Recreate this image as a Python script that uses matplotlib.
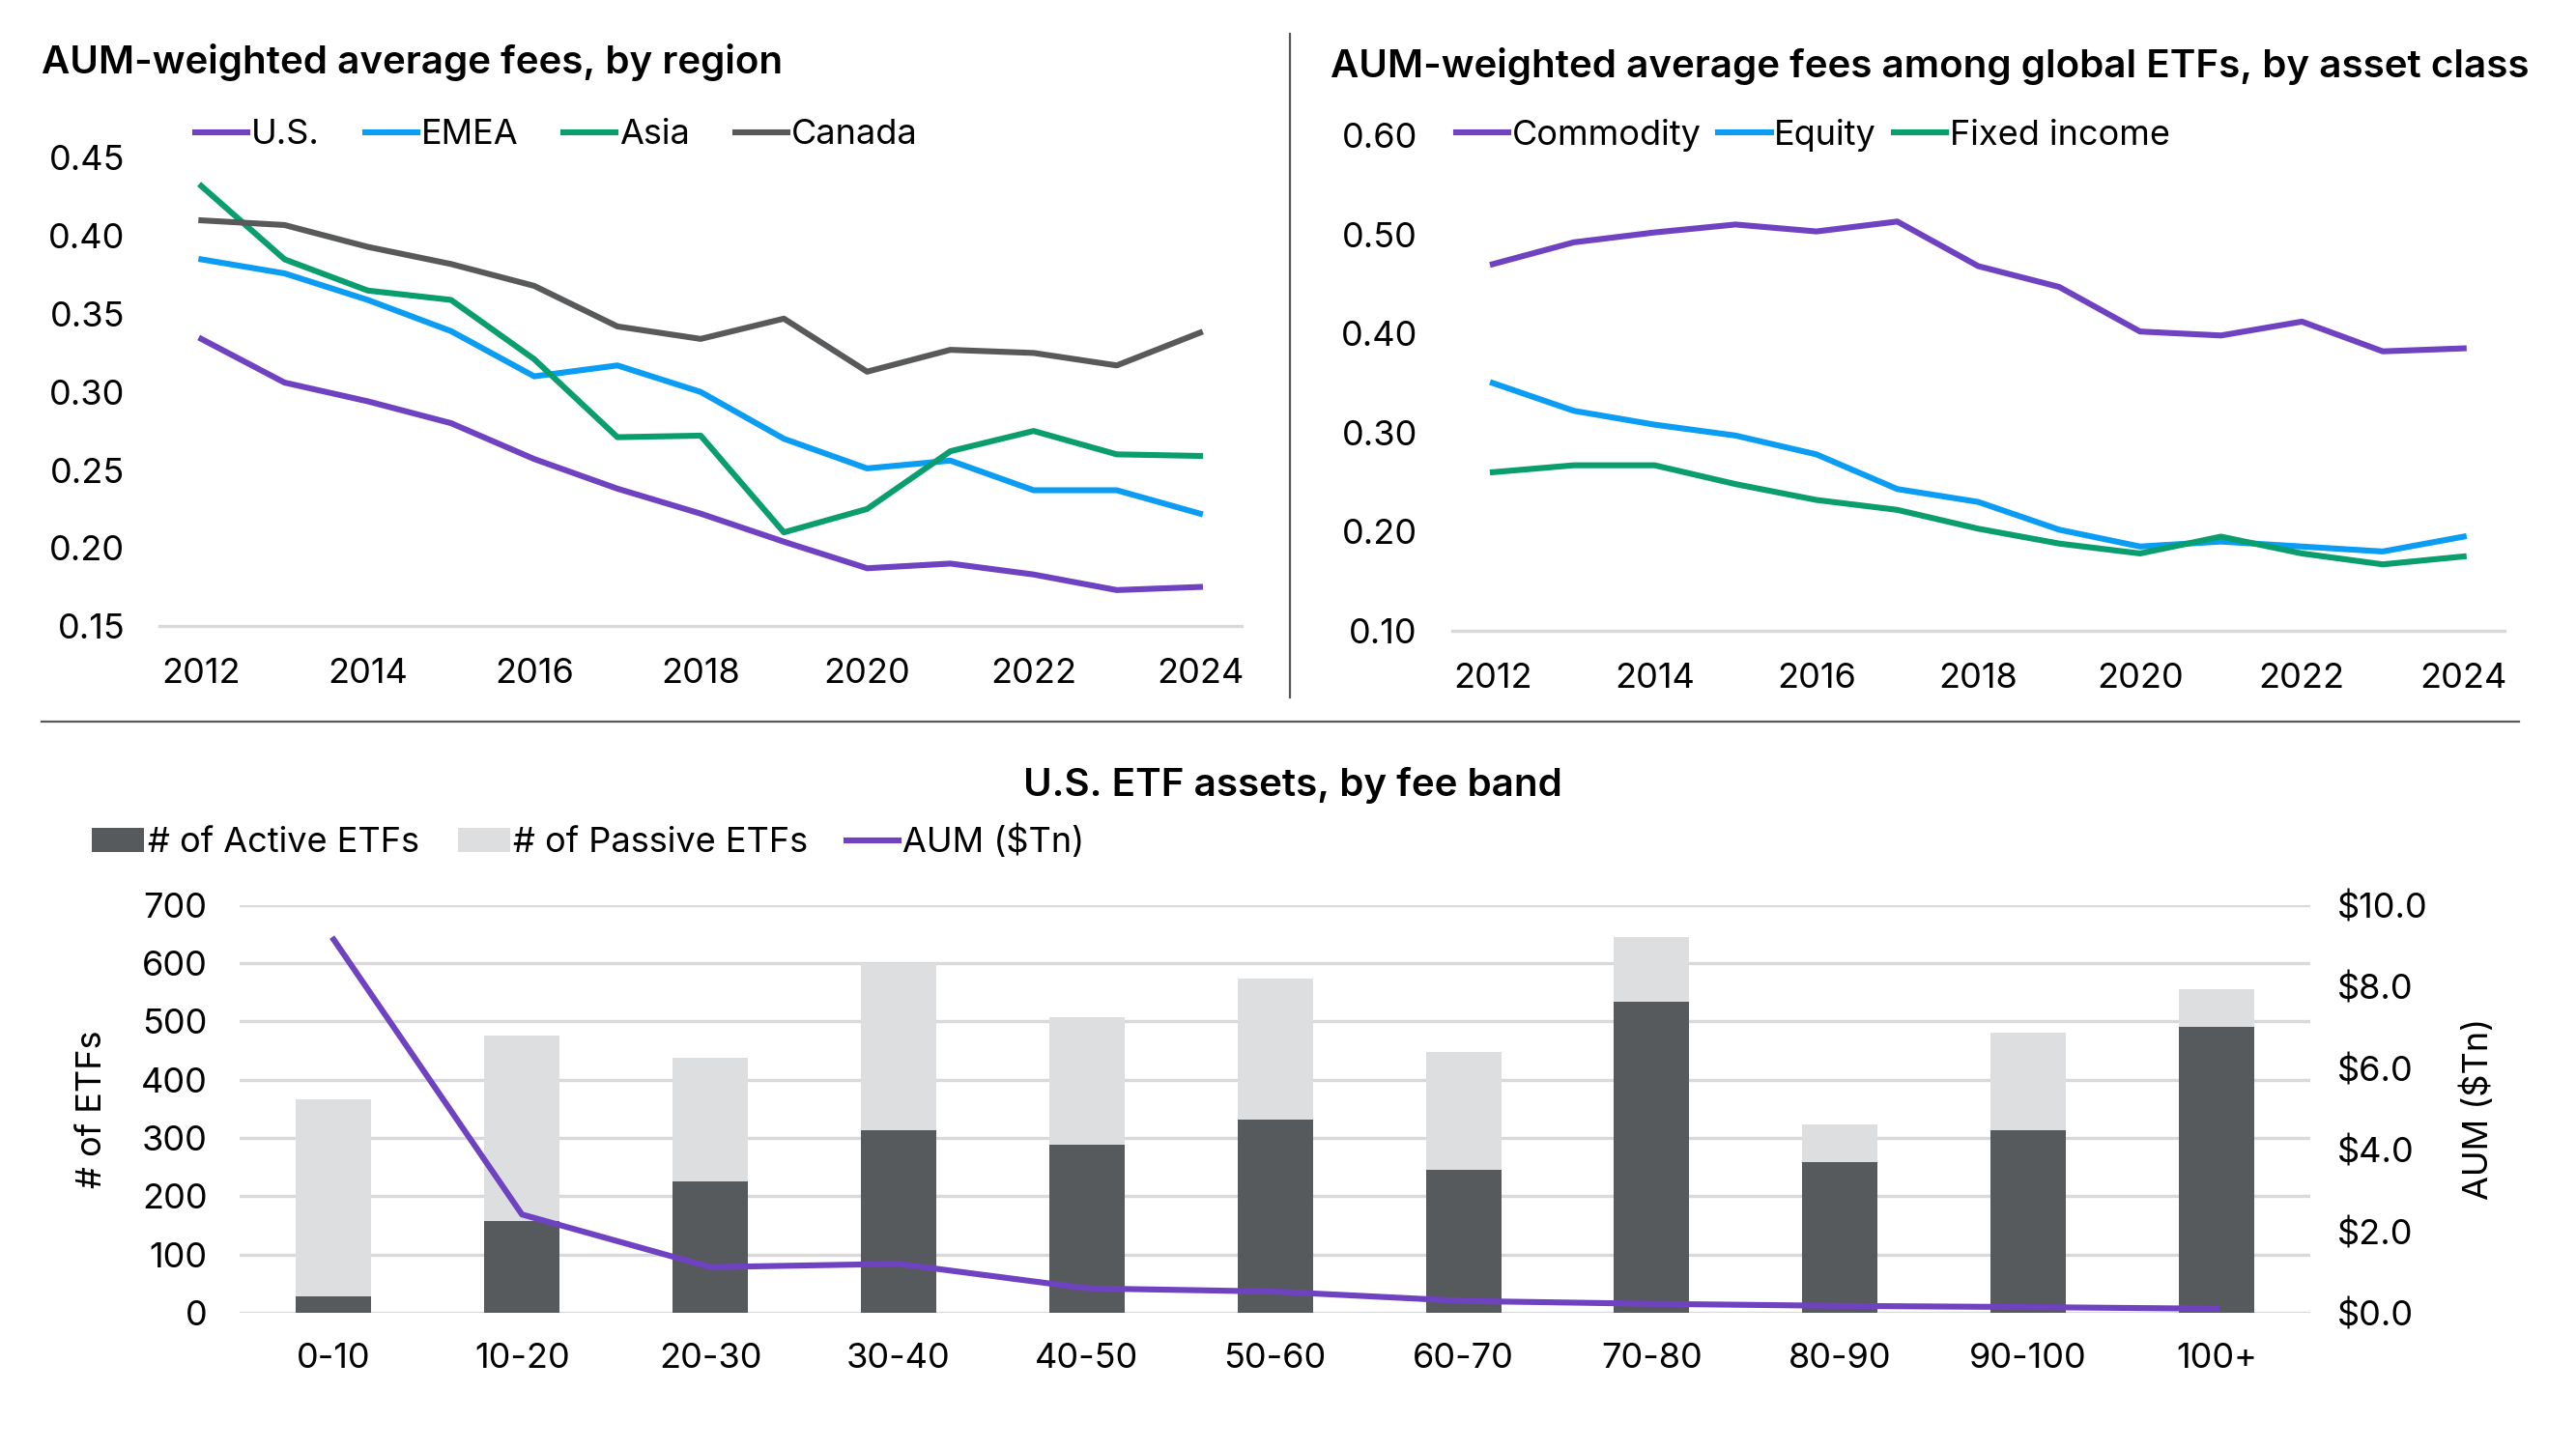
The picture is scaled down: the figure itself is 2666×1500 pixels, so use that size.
import numpy as np
import matplotlib
matplotlib.use("Agg")
from matplotlib import pyplot as plt
from matplotlib.lines import Line2D

plt.rcParams['font.family'] = ['Inter', 'DejaVu Sans']

# --- data ---
years = list(range(2012, 2025))

us = [0.334, 0.306, 0.294, 0.280, 0.257, 0.238, 0.222, 0.204, 0.187, 0.190, 0.183, 0.173, 0.175]
emea = [0.385, 0.376, 0.359, 0.339, 0.310, 0.317, 0.300, 0.270, 0.251, 0.256, 0.237, 0.237, 0.222]
asia = [0.432, 0.385, 0.365, 0.359, 0.321, 0.271, 0.272, 0.210, 0.225, 0.262, 0.275, 0.260, 0.259]
canada = [0.410, 0.407, 0.393, 0.382, 0.368, 0.342, 0.334, 0.347, 0.313, 0.327, 0.325, 0.317, 0.338]

commodity = [0.470, 0.492, 0.502, 0.510, 0.503, 0.513, 0.468, 0.447, 0.402, 0.398, 0.412, 0.382, 0.385]
equity = [0.350, 0.322, 0.308, 0.297, 0.278, 0.243, 0.230, 0.202, 0.185, 0.190, 0.185, 0.180, 0.195]
fixed_income = [0.260, 0.267, 0.267, 0.248, 0.232, 0.222, 0.203, 0.188, 0.178, 0.195, 0.178, 0.167, 0.175]

fee_bands = ["0-10", "10-20", "20-30", "30-40", "40-50", "50-60", "60-70", "70-80", "80-90", "90-100", "100+"]
active = [29, 158, 226, 314, 288, 331, 245, 534, 258, 313, 490]
passive = [337, 318, 212, 286, 219, 242, 203, 111, 65, 167, 65]
aum = [9.15, 2.41, 1.12, 1.20, 0.60, 0.52, 0.29, 0.22, 0.17, 0.14, 0.10]

PURPLE = "#6F42C1"
BLUE = "#0B9CF3"
GREEN = "#0A9E6E"
GRAY = "#58595B"
DARK_BAR = "#575A5D"
LIGHT_BAR = "#DDDEE0"
BASE = "#D9D9D9"

fig = plt.figure(figsize=(13.33, 7.5), dpi=200)


def style_line_axes(ax, ylim, yticks, fmt):
    ax.set_xlim(2011.5, 2024.5)
    ax.set_ylim(*ylim)
    ax.set_yticks(yticks)
    ax.set_yticklabels([fmt.format(v) for v in yticks])
    ax.set_xticks(range(2012, 2025, 2))
    for s in ["top", "right", "left"]:
        ax.spines[s].set_visible(False)
    ax.spines["bottom"].set_color(BASE)
    ax.spines["bottom"].set_linewidth(1.2)
    ax.tick_params(length=0, labelsize=13)
    ax.tick_params(axis="y", pad=13)
    ax.tick_params(axis="x", pad=12)


# top-left
ax1 = fig.add_axes([0.062, 0.568, 0.420, 0.323])
for vals, c, lab in [(us, PURPLE, "U.S."), (emea, BLUE, "EMEA"), (asia, GREEN, "Asia"), (canada, GRAY, "Canada")]:
    ax1.plot(years, vals, color=c, lw=2.2, label=lab)
style_line_axes(ax1, (0.15, 0.45), [0.15, 0.20, 0.25, 0.30, 0.35, 0.40, 0.45], "{:.2f}")
ax1.legend(loc="center left", bbox_to_anchor=(0.02, 1.049), ncol=4, frameon=False, fontsize=13,
           handlelength=1.5, handletextpad=0.1, columnspacing=1.3, borderaxespad=0)

# top-right
ax2 = fig.add_axes([0.5638, 0.5647, 0.4083, 0.3419])
for vals, c, lab in [(commodity, PURPLE, "Commodity"), (equity, BLUE, "Equity"), (fixed_income, GREEN, "Fixed income")]:
    ax2.plot(years, vals, color=c, lw=2.2, label=lab)
style_line_axes(ax2, (0.10, 0.60), [0.10, 0.20, 0.30, 0.40, 0.50, 0.60], "{:.2f}")
ax2.legend(loc="center left", bbox_to_anchor=(-0.01, 1.0), ncol=3, frameon=False, fontsize=13,
           handlelength=1.5, handletextpad=0.1, columnspacing=0.5, borderaxespad=0)

# bottom
ax3 = fig.add_axes([0.093, 0.094, 0.804, 0.2815])
x = np.arange(len(fee_bands))
b1 = ax3.bar(x, active, width=0.4, color=DARK_BAR, label="# of Active ETFs", zorder=2)
b2 = ax3.bar(x, passive, width=0.4, bottom=active, color=LIGHT_BAR, label="# of Passive ETFs", zorder=2)
ax3.set_xlim(-0.5, 10.5)
ax3.set_ylim(0, 700)
ax3.set_yticks(range(0, 701, 100))
ax3.set_xticks(x)
ax3.set_xticklabels(fee_bands)
ax3.grid(axis="y", color=BASE, lw=1.2, zorder=0)
for s in ["top", "right", "left", "bottom"]:
    ax3.spines[s].set_visible(False)
ax3.tick_params(length=0, labelsize=13)
ax3.tick_params(axis="y", pad=12)
ax3.tick_params(axis="x", pad=11)
ax3.set_ylabel("# of ETFs", fontsize=13, labelpad=12)

ax4 = ax3.twinx()
l1, = ax4.plot(x, aum, color=PURPLE, lw=2.2, label="AUM ($Tn)", zorder=3)
ax4.set_ylim(0, 10)
ax4.set_yticks(range(0, 11, 2))
ax4.set_yticklabels(["${:.1f}".format(v) for v in range(0, 11, 2)])
for s in ["top", "right", "left", "bottom"]:
    ax4.spines[s].set_visible(False)
ax4.tick_params(length=0, labelsize=13, pad=10)
ax4.set_ylabel("AUM ($Tn)", fontsize=13, labelpad=12)

fig.legend([b1, b2, l1], ["# of Active ETFs", "# of Passive ETFs", "AUM ($Tn)"],
           loc="center left", bbox_to_anchor=(0.0235, 0.419), ncol=3, frameon=False, fontsize=13,
           handlelength=1.5, handleheight=0.7, handletextpad=0.1, columnspacing=1.1)

# titles
fig.text(0.016, 0.957, "AUM-weighted average fees, by region", fontsize=14.5, fontweight="semibold", va="center")
fig.text(0.5165, 0.954, "AUM-weighted average fees among global ETFs, by asset class", fontsize=14.5,
         fontweight="semibold", va="center")
fig.text(0.502, 0.458, "U.S. ETF assets, by fee band", fontsize=14.5, fontweight="semibold",
         va="center", ha="center")

# dividers
fig.add_artist(Line2D([0.5006, 0.5006], [0.519, 0.977], color="#595959", lw=0.8))
fig.add_artist(Line2D([0.016, 0.978], [0.502, 0.502], color="#595959", lw=0.8))

fig.savefig("out.png", dpi=200)
